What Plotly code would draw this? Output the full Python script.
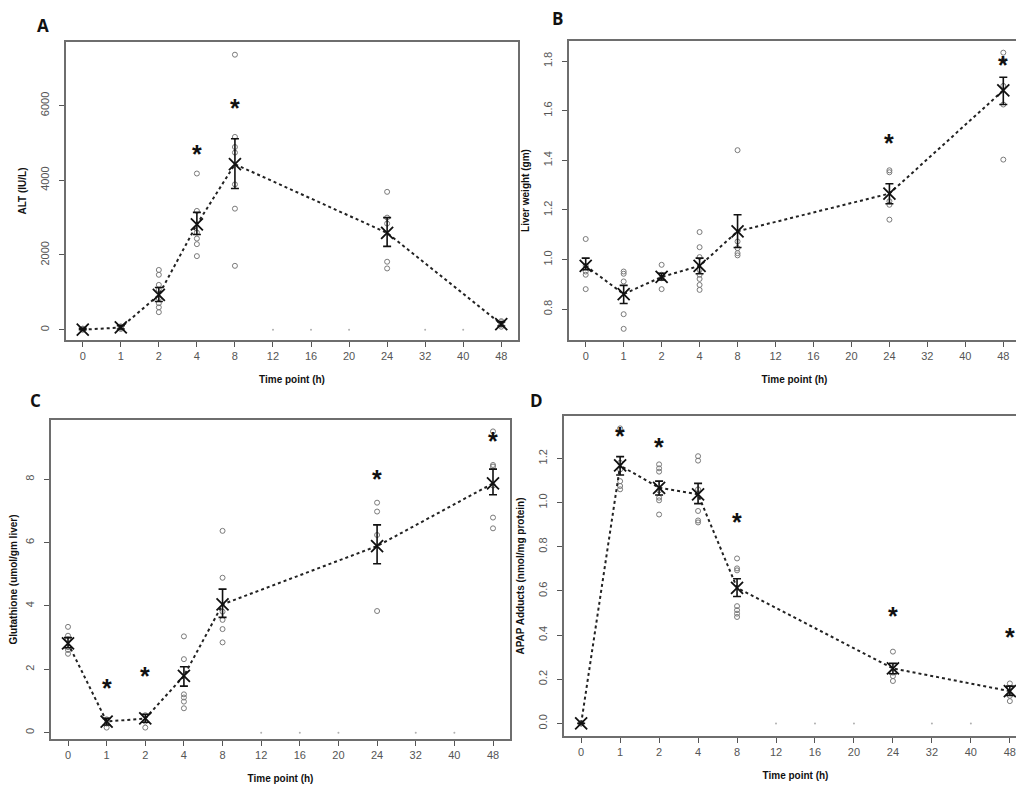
import plotly.graph_objects as go

# ---------------- data ----------------
time_labels = ["0", "1", "2", "4", "8", "12", "16", "20", "24", "32", "40", "48"]
measured_idx = [0, 1, 2, 3, 4, 8, 11]        # categories with data
empty_idx = [5, 6, 7, 9, 10]                 # categories without data

# Panel A: ALT (IU/L)
alt_mean = [0, 60, 930, 2820, 4430, 2590, 150]
alt_hi = [40, 110, 1130, 3140, 5110, 3000, 210]
alt_lo = [0, 20, 755, 2550, 3780, 2230, 100]
alt_points = [
    [0, 10, 20, 30],
    [20, 50, 70, 90],
    [1600, 1470, 1200, 1070, 840, 710, 600, 470],
    [4180, 3180, 2600, 2440, 2290, 1970],
    [7360, 5160, 4890, 4740, 3890, 3240, 1710],
    [3690, 3000, 2840, 1820, 1640],
    [80, 130, 160, 200, 230],
]
alt_star_t = [3, 4]
alt_star_y = [4580, 5800]

# Panel B: Liver weight (gm)
lw_mean = [0.975, 0.861, 0.930, 0.975, 1.114, 1.266, 1.682]
lw_hi = [1.006, 0.896, 0.945, 1.006, 1.181, 1.306, 1.735]
lw_lo = [0.959, 0.823, 0.918, 0.943, 1.049, 1.225, 1.625]
lw_points = [
    [1.083, 0.975, 0.952, 0.939, 0.881],
    [0.952, 0.943, 0.912, 0.780, 0.721],
    [0.979, 0.939, 0.925, 0.881],
    [1.111, 1.050, 1.010, 0.959, 0.939, 0.922, 0.898, 0.878],
    [1.441, 1.073, 1.046, 1.026, 1.017],
    [1.360, 1.352, 1.235, 1.221, 1.161],
    [1.834, 1.803, 1.700, 1.625, 1.403],
]
lw_star_t = [8, 11]
lw_star_y = [1.450, 1.766]

# Panel C: Glutathione (umol/gm liver)
gsh_mean = [2.82, 0.35, 0.45, 1.79, 4.05, 5.89, 7.87]
gsh_hi = [3.00, 0.45, 0.58, 2.08, 4.53, 6.56, 8.32]
gsh_lo = [2.68, 0.24, 0.33, 1.47, 3.64, 5.33, 7.51]
gsh_points = [
    [3.34, 3.06, 2.95, 2.70, 2.61, 2.49],
    [0.42, 0.29, 0.16],
    [0.55, 0.35, 0.16],
    [3.04, 2.32, 1.21, 1.11, 0.98, 0.77],
    [6.37, 4.89, 3.82, 3.56, 3.27, 2.85],
    [7.26, 6.98, 6.24, 3.84],
    [9.51, 8.45, 8.40, 7.80, 6.79, 6.45],
]
gsh_star_t = [1, 2, 8, 11]
gsh_star_y = [1.26, 1.64, 7.85, 9.06]

# Panel D: APAP Adducts (nmol/mg protein)
apap_mean = [0.0, 1.168, 1.067, 1.037, 0.614, 0.249, 0.146]
apap_hi = [0.0, 1.208, 1.097, 1.087, 0.655, 0.272, 0.169]
apap_lo = [0.0, 1.125, 1.034, 0.995, 0.575, 0.225, 0.127]
apap_points = [
    [0.0, 0.0, 0.0],
    [1.336, 1.180, 1.150, 1.097, 1.075, 1.060],
    [1.173, 1.155, 1.140, 1.055, 1.022, 1.010, 0.946],
    [1.210, 1.190, 1.060, 0.962, 0.919, 0.910],
    [0.747, 0.702, 0.693, 0.531, 0.513, 0.497, 0.482],
    [0.325, 0.230, 0.214, 0.192],
    [0.181, 0.160, 0.125, 0.101],
]
apap_star_t = [1, 2, 4, 8, 11]
apap_star_y = [1.278, 1.230, 0.890, 0.463, 0.368]

y_titles = ["ALT (IU/L)", "Liver weight (gm)", "Glutathione (umol/gm liver)",
            "APAP Adducts (nmol/mg protein)"]
panel_letters = ["A", "B", "C", "D"]
y_tickvals = [
    [0, 2000, 4000, 6000],
    [0.8, 1.0, 1.2, 1.4, 1.6, 1.8],
    [0, 2, 4, 6, 8],
    [0.0, 0.2, 0.4, 0.6, 0.8, 1.0, 1.2],
]
y_ticktext = [
    ["0", "2000", "4000", "6000"],
    ["0.8", "1.0", "1.2", "1.4", "1.6", "1.8"],
    ["0", "2", "4", "6", "8"],
    ["0.0", "0.2", "0.4", "0.6", "0.8", "1.0", "1.2"],
]

# ---------------- layout geometry ----------------
W, H = 1024, 789
boxes = [  # left, right, top, bottom in pixels
    (58, 510, 34, 332),
    (561, 1012, 33, 332),
    (43, 502, 412, 731),
    (556, 1019, 408, 728),
]
y_ranges = [(-275, 7700), (0.676, 1.881), (-0.2, 9.87), (-0.057, 1.392)]
letter_pos = [(35, 17), (549, 11), (27, 392), (528, 392)]
show_empty = [True, False, True, True]

panels = [
    (alt_mean, alt_hi, alt_lo, alt_points, alt_star_t, alt_star_y),
    (lw_mean, lw_hi, lw_lo, lw_points, lw_star_t, lw_star_y),
    (gsh_mean, gsh_hi, gsh_lo, gsh_points, gsh_star_t, gsh_star_y),
    (apap_mean, apap_hi, apap_lo, apap_points, apap_star_t, apap_star_y),
]

fig = go.Figure()
annotations = []
layout_axes = {}

for k, (mean, hi, lo, pts, st, sy) in enumerate(panels):
    n = k + 1
    xa = "x" if n == 1 else f"x{n}"
    ya = "y" if n == 1 else f"y{n}"
    xname = "xaxis" if n == 1 else f"xaxis{n}"
    yname = "yaxis" if n == 1 else f"yaxis{n}"

    # individual points
    px, py = [], []
    for i, vals in zip(measured_idx, pts):
        px += [i] * len(vals)
        py += vals
    fig.add_trace(go.Scatter(
        x=px, y=py, mode="markers", xaxis=xa, yaxis=ya, showlegend=False,
        marker=dict(symbol="circle-open", size=5, color="#7a7a7a",
                    line=dict(width=1, color="#7a7a7a")),
        hoverinfo="skip"))

    # empty category dots at zero
    if show_empty[k]:
        fig.add_trace(go.Scatter(
            x=empty_idx, y=[0] * len(empty_idx), mode="markers",
            xaxis=xa, yaxis=ya, showlegend=False,
            marker=dict(symbol="circle", size=2, color="#b0b0b0"),
            hoverinfo="skip"))

    # dotted mean line
    fig.add_trace(go.Scatter(
        x=measured_idx, y=mean, mode="lines", xaxis=xa, yaxis=ya,
        showlegend=False, line=dict(color="#222222", width=2, dash="dot"),
        hoverinfo="skip"))

    # means with error bars
    fig.add_trace(go.Scatter(
        x=measured_idx, y=mean, mode="markers", xaxis=xa, yaxis=ya,
        showlegend=False,
        marker=dict(symbol="x-thin-open", size=12, color="#111111",
                    line=dict(width=1.8, color="#111111")),
        error_y=dict(type="data", symmetric=False,
                     array=[h - m for h, m in zip(hi, mean)],
                     arrayminus=[m - l for m, l in zip(mean, lo)],
                     color="#111111", thickness=1.6, width=4)))

    # significance asterisks
    for t, yv in zip(st, sy):
        annotations.append(dict(
            x=t, y=yv, xref=xa, yref=ya, text="<b>*</b>", showarrow=False,
            font=dict(size=25, color="#111111", family="Liberation Sans"),
            yanchor="middle", xanchor="center", yshift=5))

    l, r, t_, b = boxes[k]
    layout_axes[xname] = dict(
        domain=[l / W, r / W], anchor=ya, range=[-0.44, 11.44],
        tickmode="array", tickvals=list(range(len(time_labels))),
        ticktext=time_labels, ticks="outside", ticklen=5, tickcolor="#555555",
        tickwidth=1, showline=True, linecolor="#6e6e6e", linewidth=1.5,
        mirror=True, showgrid=False, zeroline=False, ticklabelstandoff=0,
        tickfont=dict(size=11, color="#555555", family="Liberation Sans Narrow, Liberation Sans"),
        title=dict(text="<b>Time point (h)</b>", standoff=15,
                   font=dict(size=10, color="#111111", family="Liberation Sans Narrow, Liberation Sans")))
    y0, y1 = y_ranges[k]
    layout_axes[yname] = dict(
        domain=[1 - b / H, 1 - t_ / H], anchor=xa, range=[y0, y1],
        tickmode="array", tickvals=y_tickvals[k], ticktext=y_ticktext[k],
        tickangle=-90, ticks="outside", ticklen=5, tickcolor="#555555",
        tickwidth=1, showline=True, linecolor="#6e6e6e", linewidth=1.5,
        mirror=True, showgrid=False, zeroline=False, ticklabelstandoff=6,
        tickfont=dict(size=11, color="#555555", family="Liberation Sans Narrow, Liberation Sans"),
        title=dict(text=f"<b>{y_titles[k]}</b>", standoff=10,
                   font=dict(size=10, color="#111111", family="Liberation Sans")))

    lx, ly = letter_pos[k]
    annotations.append(dict(
        x=lx / W, y=1 - ly / H, xref="paper", yref="paper",
        text=f"<b>{panel_letters[k]}</b>", showarrow=False,
        font=dict(size=17, color="#111111", family="Open Sans"),
        xanchor="center", yanchor="middle"))

fig.update_layout(
    width=W, height=H, margin=dict(l=0, r=0, t=0, b=0),
    paper_bgcolor="white", plot_bgcolor="white",
    annotations=annotations, **layout_axes)

fig.write_html("out.html")
